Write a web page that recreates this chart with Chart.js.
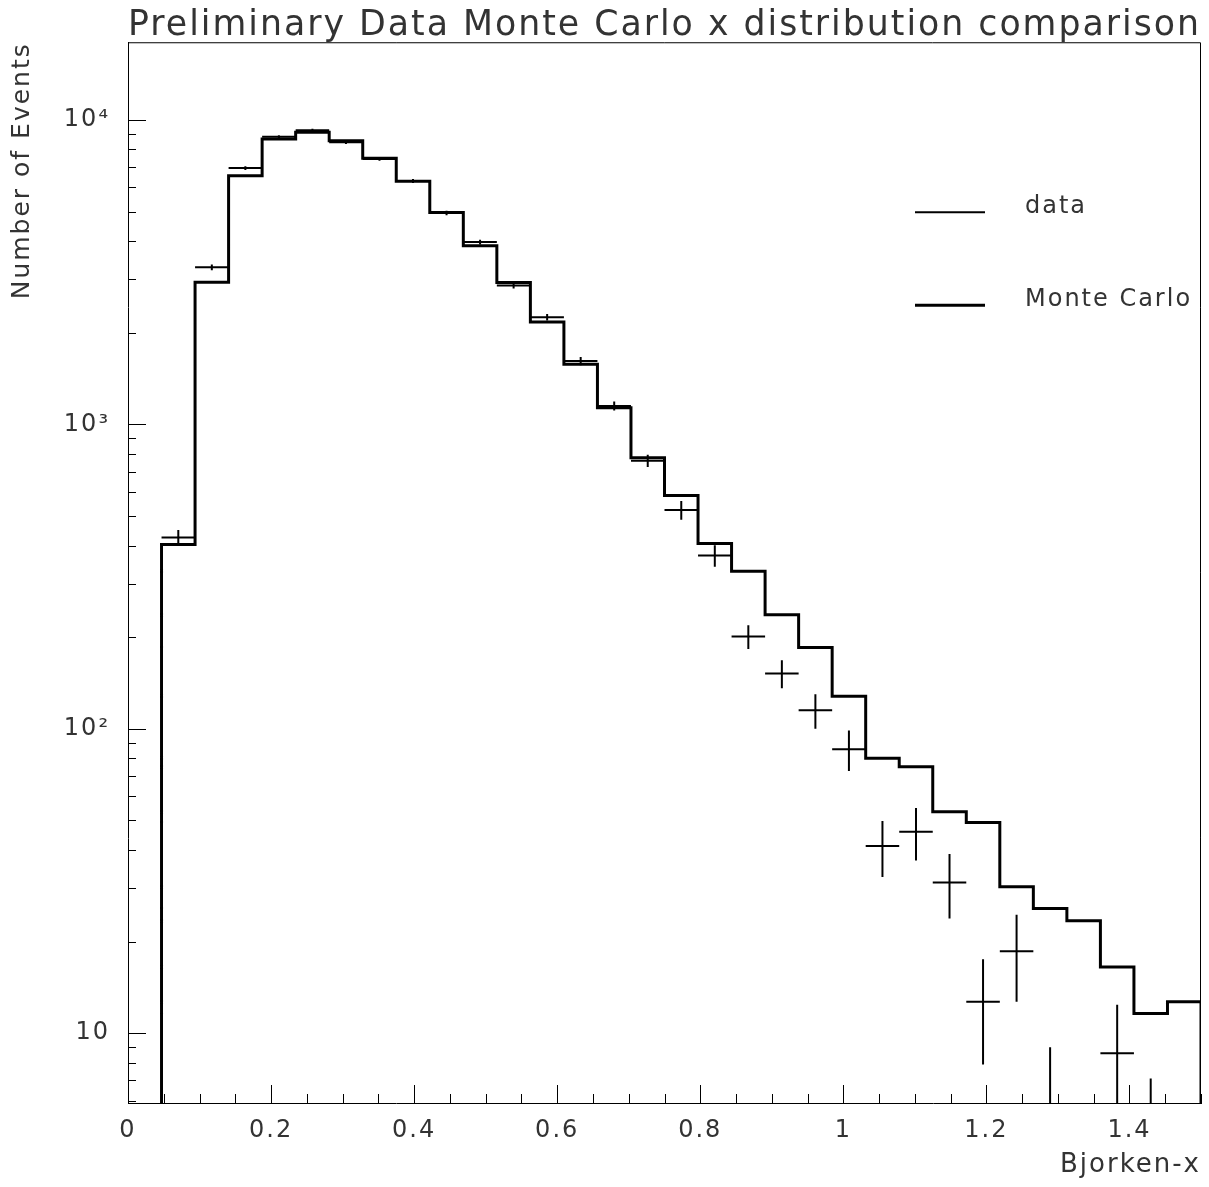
<!DOCTYPE html>
<html>
<head>
<meta charset="utf-8">
<title>Preliminary Data Monte Carlo x distribution comparison</title>
<script src="https://cdn.jsdelivr.net/npm/chart.js@4.4.1/dist/chart.umd.min.js"></script>
<style>
  html, body { margin: 0; padding: 0; background: #fff; }
  #wrap { width: 1209px; height: 1187px; position: relative; }
</style>
</head>
<body>
<div id="wrap"><canvas id="xdist"></canvas></div>
<script>
// histogram binning: 32 bins between 0 and 1.5
const xMin = 0, xMax = 1.5, nBins = 32;

// Monte Carlo bin contents (first bin empty)
const mcCounts = [0, 403, 2930, 6560, 8660, 9110, 8550, 7480, 6290, 4970, 3860, 2925, 2170, 1575, 1135, 777,
  584, 406, 329, 237, 185, 128, 80, 75, 53.4, 49.2, 30.3, 25.7, 23.4, 16.5, 11.6, 12.7];

// data bin contents + errors (null = empty bin)
const dataCounts = [null, 425, 3280, 6950, 8800, 9250, 8450, 7450, 6300, 4950, 3970, 2860, 2250, 1615, 1150, 760,
  523, 371, 201, 152, 115, 85.7, 41.2, 45.9, 31.3, 12.7, 18.6, 4.5, null, 8.6, 3.5, null];
const dataErrors = [null, 25, 70, 100, 110, 115, 110, 100, 95, 85, 75, 65, 55, 50, 40, 35,
  37, 30, 18, 16, 15, 13, 8.6, 9, 7.5, 4.8, 5.9, 4.5, null, 3.8, 3.6, null];

// axes
const yMin = 5.9, yMax = 18000;
const yDecades = [10, 100, 1000, 10000];
const yTickLabels = ['10', '10²', '10³', '10⁴'];
const xLabelValues = [0, 0.2, 0.4, 0.6, 0.8, 1, 1.2, 1.4];
const xTickLabels = ['0', '0.2', '0.4', '0.6', '0.8', '1', '1.2', '1.4'];
const xMinorStep = 0.05;

const legendItems = ['data', 'Monte Carlo'];

const FONT = "'DejaVu Sans', sans-serif";
const TXT = '#333';
Chart.defaults.font.family = FONT;

const binW = (xMax - xMin) / nBins;

// MC as a step line along the bin edges
const mcPoints = [];
mcCounts.forEach((c, i) => {
  if (c <= 0) return;
  const lo = xMin + i * binW;
  if (!mcPoints.length) mcPoints.push({ x: lo, y: 1 });
  mcPoints.push({ x: lo, y: c });
});
mcPoints.push({ x: xMax, y: mcCounts[nBins - 1] });
mcPoints.push({ x: xMax, y: 1 });

// data as crosses: bin-wide arm + vertical error bar, gaps between them
const dataPoints = [];
dataCounts.forEach((c, i) => {
  if (c === null) return;
  const lo = xMin + i * binW, hi = lo + binW, mid = lo + binW / 2, e = dataErrors[i];
  dataPoints.push({ x: lo, y: c }, { x: hi, y: c }, { x: mid, y: null },
    { x: mid, y: Math.max(c - e, 0.5) }, { x: mid, y: c + e }, { x: mid, y: null });
});

function isXLabel(v) {
  return xLabelValues.findIndex(l => Math.abs(l - v) < 1e-6);
}

// the old ROOT font is wide, spread the letters a bit
const spacing = {
  id: 'spacing',
  beforeDraw(chart) { chart.ctx.letterSpacing = '2px'; }
};

// ticks pointing into the plot, plus the top/right frame
const frameTicks = {
  id: 'frameTicks',
  afterDatasetsDraw(chart) {
    const { ctx, chartArea: a, scales: { x, y } } = chart;
    ctx.save();
    ctx.strokeStyle = '#000';
    ctx.lineWidth = 1;
    ctx.beginPath();
    ctx.moveTo(a.left, a.top + 0.5); ctx.lineTo(a.right - 0.5, a.top + 0.5); ctx.lineTo(a.right - 0.5, a.bottom);
    x.ticks.forEach(t => {
      const px = Math.round(x.getPixelForValue(t.value)) + 0.5;
      const len = isXLabel(t.value) >= 0 ? 18 : 9;
      ctx.moveTo(px, a.bottom); ctx.lineTo(px, a.bottom - len);
    });
    y.ticks.forEach(t => {
      const py = Math.round(y.getPixelForValue(t.value)) + 0.5;
      const len = yDecades.includes(t.value) ? 18 : 8;
      ctx.moveTo(a.left, py); ctx.lineTo(a.left + len, py);
    });
    ctx.stroke();

    // legend inside the frame
    const lx0 = a.right - 286, lx1 = a.right - 216, tx = a.right - 176;
    const rows = [a.top + 170, a.top + 263];
    const widths = [2, 3];
    ctx.font = '24px ' + FONT;
    ctx.fillStyle = TXT;
    ctx.textBaseline = 'middle';
    legendItems.forEach((name, i) => {
      ctx.beginPath();
      ctx.lineWidth = widths[i];
      ctx.moveTo(lx0, rows[i]); ctx.lineTo(lx1, rows[i]);
      ctx.stroke();
      ctx.fillText(name, tx, rows[i] - 5);
    });
    ctx.restore();
  }
};

new Chart(document.getElementById('xdist'), {
  type: 'line',
  data: {
    datasets: [
      {
        label: 'data',
        data: dataPoints,
        borderColor: '#000',
        borderWidth: 2,
        pointRadius: 0,
        spanGaps: false,
        fill: false
      },
      {
        label: 'Monte Carlo',
        data: mcPoints,
        borderColor: '#000',
        borderWidth: 3,
        pointRadius: 0,
        stepped: 'before',
        fill: false
      }
    ]
  },
  options: {
    responsive: true,
    maintainAspectRatio: false,
    animation: false,
    layout: { padding: { left: 0, right: 8, top: 0, bottom: 0 } },
    plugins: {
      legend: { display: false },
      tooltip: { enabled: false },
      title: {
        display: true,
        text: 'Preliminary Data Monte Carlo x distribution comparison',
        fullSize: false,
        color: TXT,
        font: { size: 35, weight: 'normal', lineHeight: 0.95 },
        padding: { top: 9, bottom: 0 }
      }
    },
    scales: {
      x: {
        type: 'linear',
        min: xMin,
        max: xMax,
        grid: { display: false },
        border: { display: true, color: '#000', width: 1 },
        afterBuildTicks: s => {
          const n = Math.round((xMax - xMin) / xMinorStep);
          const t = [];
          for (let i = 0; i <= n; i++) t.push({ value: Math.round((xMin + i * xMinorStep) * 1e6) / 1e6 });
          s.ticks = t;
        },
        afterFit: s => { s.height = 84; },
        ticks: {
          autoSkip: false,
          maxRotation: 0,
          padding: 5,
          color: TXT,
          font: { size: 24 },
          callback: v => { const k = isXLabel(v); return k >= 0 ? xTickLabels[k] : ''; }
        },
        title: {
          display: true,
          text: 'Bjorken-x',
          align: 'end',
          color: TXT,
          font: { size: 26 },
          padding: { top: 0, bottom: 6 }
        }
      },
      y: {
        type: 'logarithmic',
        min: yMin,
        max: yMax,
        grid: { display: false },
        border: { display: true, color: '#000', width: 1 },
        afterBuildTicks: s => {
          const t = [];
          [1, 10, 100, 1000, 10000].forEach(d => {
            for (let m = 1; m <= 9; m++) {
              const v = m * d;
              if (v >= yMin && v <= yMax) t.push({ value: v });
            }
          });
          s.ticks = t;
        },
        afterFit: s => { s.width = 128; },
        ticks: {
          autoSkip: false,
          padding: 10,
          color: TXT,
          font: { size: 24 },
          callback: v => { const k = yDecades.indexOf(v); return k >= 0 ? yTickLabels[k] : ''; }
        },
        title: {
          display: true,
          text: 'Number of Events',
          align: 'end',
          color: TXT,
          font: { size: 25 },
          padding: { top: 7, bottom: 0 }
        }
      }
    }
  },
  plugins: [spacing, frameTicks]
});
</script>
</body>
</html>
